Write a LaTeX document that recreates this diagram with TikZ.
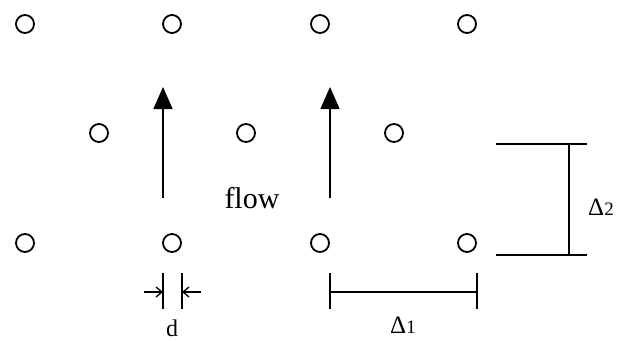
\documentclass[tikz,border=0pt]{standalone}
\usepackage{fontspec}
\setmainfont{Liberation Serif}
\usetikzlibrary{arrows.meta}
\begin{document}
\begin{tikzpicture}[x=1pt,y=-1pt,
  cyl/.style={circle,draw,line width=1.8pt,minimum size=18pt,inner sep=0pt},
  dimline/.style={line width=1.5pt},
  flowarrow/.style={line width=1.5pt,-{Triangle[length=22pt,width=19pt]}},
  smallarrow/.style={line width=1.3pt,-{Straight Barb[length=6pt,width=10pt]}},
  lbl/.style={font=\fontsize{25}{28}\selectfont,inner sep=0pt,anchor=base}]
\useasboundingbox (0,0) rectangle (626,340);
% cylinders
\node[cyl] (a1) at (25,24) {};
\node[cyl] (a2) at (172,24) {};
\node[cyl] (a3) at (320,24) {};
\node[cyl] (a4) at (467,24) {};
\node[cyl] (b1) at (99,133) {};
\node[cyl] (b2) at (246,133) {};
\node[cyl] (b3) at (394,133) {};
\node[cyl] (c1) at (25,243) {};
\node[cyl] (c2) at (172,243) {};
\node[cyl] (c3) at (320,243) {};
\node[cyl] (c4) at (467,243) {};
% flow arrows
\coordinate (f1s) at (163,198);
\coordinate (f1e) at (163,87);
\coordinate (f2s) at (330,198);
\coordinate (f2e) at (330,87);
\draw[flowarrow] (f1s) -- (f1e);
\draw[flowarrow] (f2s) -- (f2e);
\node[font=\fontsize{30}{34}\selectfont,inner sep=0pt,anchor=base] (flow) at (252,208) {flow};
% d marker
\coordinate (dl1) at (163,273);
\coordinate (dl2) at (163,309);
\coordinate (dr1) at (182,273);
\coordinate (dr2) at (182,309);
\draw[dimline] (dl1) -- (dl2);
\draw[dimline] (dr1) -- (dr2);
\coordinate (dla) at (144,292);
\coordinate (dlb) at (163,292);
\coordinate (dra) at (201,292);
\coordinate (drb) at (182,292);
\draw[smallarrow] (dla) -- (dlb);
\draw[smallarrow] (dra) -- (drb);
\node[font=\fontsize{24}{28}\selectfont,inner sep=0pt,anchor=base] (d) at (172,336) {d};
% Delta 1
\coordinate (e1a) at (330,273);
\coordinate (e1b) at (330,309);
\coordinate (e2a) at (477,273);
\coordinate (e2b) at (477,309);
\coordinate (e1m) at (330,292);
\coordinate (e2m) at (477,292);
\draw[dimline] (e1a) -- (e1b);
\draw[dimline] (e2a) -- (e2b);
\draw[dimline] (e1m) -- (e2m);
\node[lbl] (D1) at (403,333) {Δ{\fontsize{19}{22}\selectfont 1}};
% Delta 2
\coordinate (g1a) at (496,144);
\coordinate (g1b) at (587,144);
\coordinate (g2a) at (496,255);
\coordinate (g2b) at (587,255);
\coordinate (g1m) at (569,144);
\coordinate (g2m) at (569,255);
\draw[dimline] (g1a) -- (g1b);
\draw[dimline] (g2a) -- (g2b);
\draw[dimline] (g1m) -- (g2m);
\node[lbl] (D2) at (601,215) {Δ{\fontsize{19}{22}\selectfont 2}};
\end{tikzpicture}
\end{document}
